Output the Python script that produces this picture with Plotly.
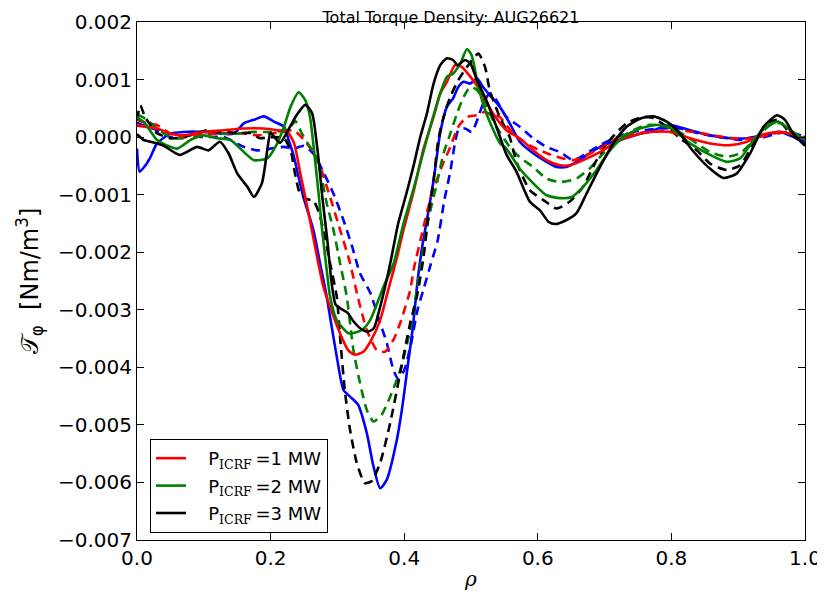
import plotly.graph_objects as go

SCALE = 1e-3  # values below are in units of 1e-3 Nm/m^3

# ---------------- P_ICRF = 3 MW (black) ----------------
black_solid_x = [0, 0.01, 0.02, 0.04, 0.064, 0.09, 0.107, 0.124, 0.137, 0.15, 0.165, 0.175, 0.187, 0.195, 0.2,
                 0.214, 0.229, 0.24, 0.252, 0.262, 0.27, 0.278, 0.285, 0.291, 0.297, 0.305, 0.315, 0.324, 0.335,
                 0.345, 0.354, 0.364, 0.379, 0.391, 0.404, 0.414, 0.424, 0.434, 0.444, 0.454, 0.464, 0.473, 0.48,
                 0.491, 0.499, 0.509, 0.523, 0.538, 0.553, 0.568, 0.588, 0.603, 0.616, 0.626, 0.643, 0.658, 0.673,
                 0.693, 0.713, 0.733, 0.753, 0.773, 0.793, 0.813, 0.833, 0.858, 0.878, 0.898, 0.918, 0.938, 0.958,
                 0.97, 0.983, 1.0]
black_solid_y = [0.05, -0.05, -0.08, -0.15, -0.31, -0.17, -0.23, -0.08, -0.28, -0.63, -0.86, -1.04, -0.80, -0.23, 0.07,
                 -0.1, 0.18, 0.4, 0.56, 0.42, -0.2, -1.1, -1.8, -2.5, -2.9, -2.98, -3.05, -3.2, -3.33,
                 -3.38, -3.33, -2.95, -2.2, -1.5, -0.95, -0.5, 0.0, 0.41, 0.93, 1.25, 1.37, 1.34, 1.25,
                 1.34, 1.28, 0.99, 0.64, 0.18, -0.3, -0.6, -1.12, -1.27, -1.47, -1.51, -1.44, -1.32, -0.98,
                 -0.52, -0.11, 0.18, 0.32, 0.36, 0.27, 0.06, -0.25, -0.55, -0.71, -0.63, -0.28, 0.18, 0.38,
                 0.3, 0.05, -0.15]

black_dash_x = [0, 0.005, 0.012, 0.02, 0.03, 0.05, 0.07, 0.09, 0.105, 0.12, 0.135, 0.15, 0.17, 0.184, 0.2, 0.22,
                0.23, 0.236, 0.244, 0.255, 0.264, 0.272, 0.279, 0.289, 0.299, 0.304, 0.311, 0.319, 0.329, 0.341,
                0.351, 0.364, 0.379, 0.394, 0.409, 0.419, 0.429, 0.436, 0.444, 0.451, 0.459, 0.469, 0.481, 0.494,
                0.511, 0.521, 0.528, 0.543, 0.558, 0.568, 0.588, 0.608, 0.628, 0.648, 0.668, 0.688, 0.708, 0.733,
                0.758, 0.773, 0.793, 0.813, 0.838, 0.858, 0.883, 0.903, 0.923, 0.943, 0.96, 0.978, 1.0]
black_dash_y = [0.3, 0.55, 0.35, 0.21, 0.07, -0.02, 0.0, 0.07, 0.12, 0.09, 0.09, 0.07, 0.07, -0.02, 0.0, -0.02,
                -0.23, -0.6, -0.98, -1.08, -1.1, -1.3, -1.61, -2.19, -2.77, -3.47, -4.39, -5.09, -5.66, -6.01,
                -5.98, -5.66, -4.97, -4.1, -3.23, -2.77, -2.08, -1.38, -0.75, -0.05, 0.35, 0.70, 0.99, 1.22,
                1.45, 1.22, 0.82, 0.35, 0.0, -0.43, -0.92, -1.09, -1.24, -1.12, -0.86, -0.4, -0.05, 0.24,
                0.35, 0.33, 0.18, -0.02, -0.23, -0.46, -0.57, -0.49, -0.11, 0.24, 0.3, 0.06, -0.13]

# ---------------- P_ICRF = 2 MW (green) ----------------
green_solid_x = [0, 0.012, 0.03, 0.06, 0.08, 0.1, 0.12, 0.14, 0.16, 0.175, 0.195, 0.21, 0.22, 0.23, 0.242, 0.252,
                 0.259, 0.267, 0.272, 0.277, 0.284, 0.289, 0.299, 0.317, 0.337, 0.349, 0.369, 0.384, 0.399, 0.414,
                 0.424, 0.439, 0.454, 0.464, 0.473, 0.484, 0.494, 0.501, 0.511, 0.523, 0.543, 0.553, 0.573, 0.593,
                 0.613, 0.633, 0.651, 0.668, 0.688, 0.708, 0.728, 0.753, 0.778, 0.798, 0.828, 0.858, 0.883, 0.903,
                 0.923, 0.943, 0.96, 0.978, 1.0]
green_solid_y = [0.35, 0.24, -0.05, -0.2, -0.05, 0.03, -0.02, -0.05, -0.26, -0.4, -0.37, -0.11, 0.18, 0.53, 0.78, 0.64,
                 0.35, -0.45, -1.0, -1.6, -2.31, -2.77, -3.18, -3.41, -3.35, -3.18, -2.6, -2.2, -1.5, -0.9,
                 -0.46, 0.18, 0.76, 1.05, 1.1, 1.28, 1.53, 1.42, 0.87, 0.41, -0.1, -0.2, -0.55, -0.8,
                 -1.01, -1.06, -1.04, -0.86, -0.57, -0.23, 0.0, 0.15, 0.21, 0.16, -0.11, -0.31, -0.43, -0.37,
                 -0.05, 0.18, 0.27, 0.12, -0.05]

green_dash_x = [0, 0.015, 0.03, 0.05, 0.07, 0.09, 0.11, 0.13, 0.15, 0.17, 0.19, 0.21, 0.23, 0.237, 0.247, 0.255,
                0.264, 0.274, 0.284, 0.294, 0.304, 0.314, 0.324, 0.334, 0.344, 0.354, 0.366, 0.379, 0.394, 0.409,
                0.419, 0.436, 0.449, 0.459, 0.469, 0.479, 0.489, 0.499, 0.509, 0.523, 0.538, 0.558, 0.573, 0.593,
                0.613, 0.633, 0.658, 0.678, 0.698, 0.718, 0.743, 0.763, 0.798, 0.838, 0.858, 0.883, 0.903, 0.928,
                0.948, 0.963, 0.983, 1.0]
green_dash_y = [0.4, 0.3, 0.15, 0.0, -0.02, 0.09, 0.09, 0.06, 0.06, 0.09, 0.09, 0.09, 0.18, 0.28, 0.06, -0.1,
                -0.25, -0.57, -1.15, -1.61, -2.19, -2.77, -3.7, -4.28, -4.74, -4.94, -4.83, -4.51, -4.05, -3.35,
                -2.66, -1.44, -0.8, -0.28, 0.06, 0.41, 0.70, 0.87, 0.82, 0.53, 0.18, -0.17, -0.35, -0.52,
                -0.72, -0.78, -0.72, -0.54, -0.28, -0.05, 0.12, 0.21, 0.18, -0.11, -0.26, -0.34, -0.28, 0.0,
                0.21, 0.24, 0.06, -0.02]

# ---------------- P_ICRF = 1 MW (red) ----------------
red_solid_x = [0, 0.03, 0.05, 0.07, 0.1, 0.13, 0.16, 0.19, 0.21, 0.225, 0.235, 0.244, 0.252, 0.259, 0.269, 0.279,
               0.289, 0.304, 0.316, 0.326, 0.339, 0.351, 0.364, 0.376, 0.389, 0.399, 0.414, 0.429, 0.444, 0.454,
               0.464, 0.476, 0.486, 0.499, 0.513, 0.533, 0.553, 0.573, 0.593, 0.613, 0.633, 0.648, 0.668, 0.693,
               0.718, 0.743, 0.768, 0.798, 0.828, 0.858, 0.888, 0.913, 0.933, 0.958, 0.978, 1.0]
red_solid_y = [0.2, 0.15, 0.06, 0.03, 0.09, 0.12, 0.15, 0.15, 0.12, 0.09, -0.1, -0.6, -1.05, -1.45, -2.05, -2.6,
               -2.95, -3.41, -3.7, -3.78, -3.73, -3.52, -3.18, -2.66, -2.1, -1.61, -0.95, -0.2, 0.35, 0.76,
               0.96, 1.25, 1.22, 1.05, 0.82, 0.41, 0.12, -0.02, -0.23, -0.4, -0.49, -0.49, -0.4, -0.26,
               -0.08, 0.03, 0.09, 0.09, -0.02, -0.11, -0.14, -0.08, 0.03, 0.09, 0.06, -0.02]

red_dash_x = [0, 0.015, 0.03, 0.05, 0.07, 0.1, 0.13, 0.165, 0.18, 0.2, 0.22, 0.235, 0.25, 0.265, 0.274, 0.289,
              0.304, 0.319, 0.331, 0.344, 0.359, 0.371, 0.384, 0.394, 0.409, 0.414, 0.429, 0.441, 0.455, 0.469,
              0.481, 0.494, 0.509, 0.521, 0.528, 0.543, 0.563, 0.583, 0.603, 0.628, 0.653, 0.673, 0.693, 0.718,
              0.743, 0.773, 0.803, 0.833, 0.863, 0.893, 0.923, 0.953, 0.973, 1.0]
red_dash_y = [0.3, 0.24, 0.21, 0.06, 0.0, 0.05, 0.06, 0.06, 0.03, 0.06, 0.09, 0.12, -0.05, -0.28, -0.5, -1.04,
              -1.61, -2.19, -2.8, -3.35, -3.7, -3.73, -3.52, -3.23, -2.66, -2.31, -1.56, -1.0, -0.55, -0.17,
              0.18, 0.35, 0.38, 0.44, 0.4, 0.35, 0.06, -0.11, -0.23, -0.34, -0.4, -0.31, -0.2, -0.02,
              0.06, 0.09, 0.12, 0.09, 0.03, -0.02, -0.02, 0.06, 0.09, 0.0]

# ---------------- reference case (blue) ----------------
blue_solid_x = [0, 0.004, 0.012, 0.02, 0.03, 0.05, 0.07, 0.1, 0.125, 0.145, 0.16, 0.175, 0.19, 0.205, 0.22, 0.227,
                0.234, 0.249, 0.264, 0.274, 0.284, 0.289, 0.299, 0.309, 0.319, 0.331, 0.344, 0.354, 0.364, 0.374,
                0.389, 0.397, 0.405, 0.413, 0.42, 0.427, 0.434, 0.444, 0.454, 0.464, 0.473, 0.481, 0.489, 0.499,
                0.509, 0.518, 0.528, 0.543, 0.558, 0.573, 0.593, 0.613, 0.628, 0.643, 0.658, 0.678, 0.698, 0.723,
                0.753, 0.773, 0.798, 0.828, 0.858, 0.888, 0.913, 0.938, 0.963, 0.983, 1.0]
blue_solid_y = [-0.2, -0.6, -0.5, -0.35, -0.11, 0.06, 0.09, 0.09, 0.06, 0.06, 0.24, 0.3, 0.36, 0.27, 0.18, -0.05,
                -0.3, -1.04, -1.61, -2.19, -2.77, -3.12, -3.81, -4.39, -4.51, -4.65, -5.14, -5.72, -6.1, -5.95,
                -5.26, -4.7, -4.0, -3.3, -2.5, -1.9, -1.44, -0.75, 0.08, 0.53, 0.67, 0.87, 0.96, 0.93,
                1.02, 0.87, 0.73, 0.53, 0.24, -0.08, -0.28, -0.43, -0.52, -0.52, -0.43, -0.28, -0.14, -0.05,
                0.06, 0.12, 0.21, 0.12, 0.03, -0.02, -0.02, 0.03, 0.09, 0.0, -0.08]

blue_dash_x = [0, 0.015, 0.03, 0.05, 0.07, 0.1, 0.13, 0.16, 0.18, 0.2, 0.22, 0.235, 0.25, 0.265, 0.28, 0.294,
               0.309, 0.322, 0.334, 0.349, 0.364, 0.374, 0.384, 0.391, 0.4, 0.41, 0.42, 0.43, 0.44, 0.45,
               0.46, 0.469, 0.476, 0.481, 0.491, 0.501, 0.511, 0.518, 0.528, 0.538, 0.553, 0.573, 0.593, 0.613,
               0.633, 0.653, 0.673, 0.693, 0.718, 0.743, 0.783, 0.813, 0.843, 0.873, 0.903, 0.933, 0.958, 0.978,
               1.0]
blue_dash_y = [0.25, 0.18, 0.12, 0.0, 0.03, 0.0, 0.0, -0.17, -0.23, -0.2, -0.17, -0.2, -0.15, -0.3, -0.63, -0.98,
               -1.44, -1.9, -2.37, -2.7, -3.23, -3.58, -4.05, -4.2, -4.05, -3.6, -3.0, -2.6, -2.2, -1.8,
               -1.1, -0.6, -0.1, 0.12, 0.15, 0.09, 0.35, 0.58, 0.76, 0.64, 0.35, 0.18, -0.02, -0.17,
               -0.26, -0.4, -0.28, -0.14, 0.0, 0.09, 0.15, 0.15, 0.06, 0.0, -0.05, -0.02, 0.06, 0.09,
               0.0]

SUB = "<sub><span style=\"font-family:'DejaVu Serif'\">ICRF</span></sub>"
legend_labels = ["\u00a0\u00a0\u00a0P" + SUB + "\u2009=1 MW",
                 "\u00a0\u00a0\u00a0P" + SUB + "\u2009=2 MW",
                 "\u00a0\u00a0\u00a0P" + SUB + "\u2009=3 MW"]
x_ticks = [0.0, 0.2, 0.4, 0.6, 0.8, 1.0]
y_ticks = [-0.007, -0.006, -0.005, -0.004, -0.003, -0.002, -0.001, 0.0, 0.001, 0.002]

BLUE, GREEN, RED, BLACK = "#0000ff", "#008000", "#ff0000", "#000000"
LW = 2.6
DASH = "9px,6px"

# the page body adds an 8px offset; figure size/margins compensate
OFF = 8
FIG_W, FIG_H = 825 - OFF, 592 - OFF
PLOT_L, PLOT_R, PLOT_T, PLOT_B = 137 - OFF, 805 - OFF, 22 - OFF, 540 - OFF


def scaled(vals):
    return [v * SCALE for v in vals]


fig = go.Figure()

series = [
    (blue_solid_x, blue_solid_y, BLUE, "solid", None),
    (blue_dash_x, blue_dash_y, BLUE, DASH, None),
    (red_dash_x, red_dash_y, RED, DASH, None),
    (green_dash_x, green_dash_y, GREEN, DASH, None),
    (black_dash_x, black_dash_y, BLACK, DASH, None),
    (red_solid_x, red_solid_y, RED, "solid", legend_labels[0]),
    (green_solid_x, green_solid_y, GREEN, "solid", legend_labels[1]),
    (black_solid_x, black_solid_y, BLACK, "solid", legend_labels[2]),
]
for i, (xs, ys, col, dash, name) in enumerate(series):
    fig.add_trace(go.Scatter(
        x=xs, y=scaled(ys), mode="lines",
        line=dict(color=col, width=LW, dash=dash, shape="spline", smoothing=0.6),
        name=name if name else "",
        legendgroup="g%d" % i,
        showlegend=name is not None,
    ))

axis_common = dict(
    showline=True, linecolor="black", linewidth=1, mirror="ticks",
    ticks="inside", ticklen=7, tickwidth=1, tickcolor="black",
    showgrid=False, zeroline=False, automargin=False,
    tickfont=dict(family="DejaVu Sans", size=20, color="black"),
)

fig.update_layout(
    width=FIG_W, height=FIG_H,
    margin=dict(l=PLOT_L, r=FIG_W - PLOT_R, t=PLOT_T, b=FIG_H - PLOT_B, pad=0),
    paper_bgcolor="white", plot_bgcolor="white",
    font=dict(family="DejaVu Sans", color="black"),
    title=dict(text="Total Torque Density: AUG26621", x=(451 - OFF) / FIG_W, xanchor="center",
               xref="container", yref="container",
               y=1 - 3.5 / FIG_H, yanchor="top", pad=dict(t=0, b=0, l=0, r=0),
               font=dict(family="DejaVu Sans", size=16, color="black")),
    xaxis=dict(range=[0, 1], tickvals=x_ticks, tickformat=".1f",
               title=dict(text="<i>ρ</i>", font=dict(family="DejaVu Serif", size=20), standoff=2),
               **axis_common),
    yaxis=dict(range=[-0.007, 0.002], tickvals=y_ticks, tickformat=".3f",
               title=dict(text="𝒯<sub>φ</sub>\u00a0\u00a0[Nm/m<sup>3</sup>]",
                          font=dict(family="DejaVu Sans", size=24), standoff=12),
               **axis_common),
    legend=dict(x=13 / 668, y=7 / 518, xanchor="left", yanchor="bottom",
                bgcolor="white", bordercolor="black", borderwidth=1,
                font=dict(family="DejaVu Sans", size=18, color="black"),
                itemwidth=30, tracegroupgap=1),
    showlegend=True,
)

fig.write_html("out.html")
